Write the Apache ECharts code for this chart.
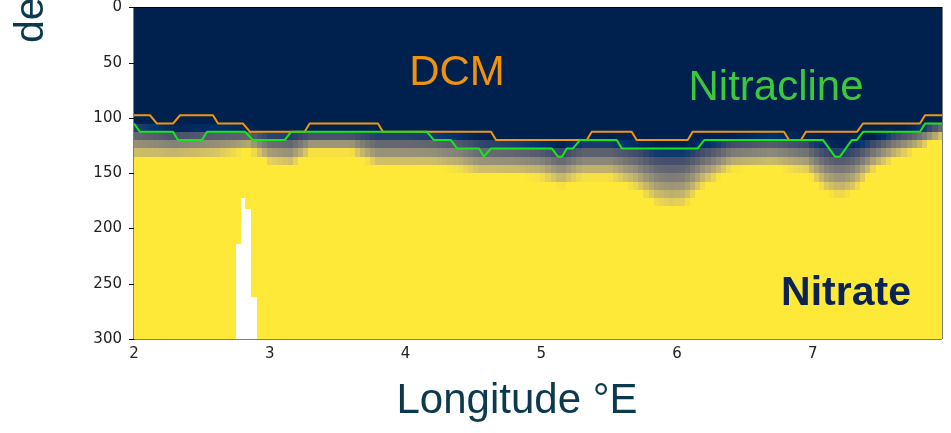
<!DOCTYPE html>
<html>
<head>
<meta charset="utf-8">
<script src="https://cdn.jsdelivr.net/npm/echarts@6/dist/echarts.min.js"></script>
<style>
html,body{margin:0;padding:0;background:#ffffff;}
#chart{width:951px;height:433px;}
</style>
</head>
<body>
<div id="chart"></div>
<script>
// ---- Data ----
const xTicks = [2, 3, 4, 5, 6, 7];
const yTicks = [0, 50, 100, 150, 200, 250, 300];
const lonMax = 7.952;

// DCM line (orange): longitude / depth breakpoints
const dcmLon   = [2.0, 2.118, 2.169, 2.287, 2.339, 2.582, 2.619, 2.803, 2.855, 3.257, 3.294, 3.797, 3.834, 4.630, 4.667, 5.335, 5.372, 5.666, 5.703, 6.079, 6.115, 6.788, 6.825, 6.913, 6.950, 7.326, 7.370, 7.790, 7.827, 7.952];
const dcmDepth = [97.5, 97.5, 105, 105, 97.5, 97.5, 105, 105, 112.5, 112.5, 105, 105, 112.5, 112.5, 120, 120, 112.5, 112.5, 120, 120, 112.5, 112.5, 120, 120, 112.5, 112.5, 105, 105, 97.5, 97.5];

// Nitracline line (green)
const nitLon   = [2.0, 2.044, 2.287, 2.324, 2.501, 2.538, 2.818, 2.877, 3.110, 3.157, 4.158, 4.210, 4.335, 4.379, 4.541, 4.578, 4.630, 5.077, 5.123, 5.153, 5.188, 5.234, 5.285, 5.556, 5.593, 6.153, 6.200, 7.076, 7.164, 7.201, 7.287, 7.324, 7.370, 7.790, 7.827, 7.952];
const nitDepth = [105, 112.5, 112.5, 120, 120, 112.5, 112.5, 120, 120, 112.5, 112.5, 120, 120, 127.5, 127.5, 135, 127.5, 127.5, 135, 135, 127.5, 127.5, 120, 120, 127.5, 127.5, 120, 120, 135, 135, 120, 120, 112.5, 112.5, 105, 105];

// Nitrate field: depth where shading starts (low) and where it reaches full (high)
const shadeLon    = [2.0, 2.3, 2.6, 2.85, 3.0, 3.15, 3.3, 3.6, 3.8, 4.0, 4.2, 4.4, 4.55, 4.8, 5.0, 5.15, 5.3, 5.5, 5.7, 5.85, 5.95, 6.05, 6.2, 6.4, 6.7, 6.95, 7.1, 7.2, 7.3, 7.45, 7.6, 7.8, 7.95];
const shadeTop    = [102, 108, 106, 108, 110, 110, 110, 110, 110, 110, 111, 113, 116, 118, 120, 123, 118, 118, 120, 123, 123, 123, 120, 116, 113, 116, 120, 123, 120, 116, 110, 106, 102];
const shadeBottom = [138, 138, 136, 130, 142, 145, 132, 132, 145, 145, 145, 148, 153, 153, 155, 163, 155, 155, 165, 180, 184, 182, 162, 147, 145, 150, 168, 173, 168, 148, 138, 128, 118];

// Missing data (white) columns: lon range and top depth
const gapLon0 = [2.751, 2.785, 2.820, 2.862];
const gapLon1 = [2.785, 2.820, 2.862, 2.903];
const gapTop  = [214, 172, 182, 262];

// grid resolution of the section
const colW = 0.038, colOrigin = 2.751, rowH = 7.5, depthMax = 300;

// ---- build cells ----
function lerpAt(xs, ys, x) {
  if (x <= xs[0]) return ys[0];
  for (let i = 1; i < xs.length; i++) {
    if (x <= xs[i]) { const t = (x - xs[i-1]) / (xs[i] - xs[i-1]); return ys[i-1] + t * (ys[i] - ys[i-1]); }
  }
  return ys[ys.length - 1];
}
const cells = [];
for (let k = -25; k < 200; k++) {
  let l0 = colOrigin + k * colW, l1 = l0 + colW;
  if (l1 <= 2 || l0 >= lonMax) continue;
  l0 = Math.max(l0, 2); l1 = Math.min(l1, lonMax);
  const c = (l0 + l1) / 2;
  const top = lerpAt(shadeLon, shadeTop, c), bot = lerpAt(shadeLon, shadeBottom, c);
  for (let r = 0; r < depthMax / rowH; r++) {
    const d0 = r * rowH, d1 = d0 + rowH, dc = (d0 + d1) / 2;
    let v = (dc - top) / (bot - top);
    v = Math.max(0, Math.min(1, v));
    cells.push([l0, l1, d0, d1, v]);
  }
}
const gaps = gapLon0.map((l, i) => [l, gapLon1[i], gapTop[i], depthMax]);
const dcmData = dcmLon.map((l, i) => [l, dcmDepth[i]]);
const nitData = nitLon.map((l, i) => [l, nitDepth[i]]);

function rectItem(fillFn) {
  return function (params, api) {
    const p0 = api.coord([api.value(0), api.value(2)]);
    const p1 = api.coord([api.value(1), api.value(3)]);
    const x0 = Math.round(Math.min(p0[0], p1[0])), x1 = Math.round(Math.max(p0[0], p1[0]));
    const y0 = Math.round(Math.min(p0[1], p1[1])), y1 = Math.round(Math.max(p0[1], p1[1]));
    const c = fillFn(api);
    return {
      type: 'rect',
      shape: { x: x0, y: y0, width: x1 - x0, height: y1 - y0 },
      style: { fill: c, stroke: null }
    };
  };
}

const chart = echarts.init(document.getElementById('chart'), null, { renderer: 'canvas' });
const textCol = '#0b3a4f';
chart.setOption({
  animation: false,
  backgroundColor: '#ffffff',
  grid: { left: 134, right: 9, top: 6, bottom: 94, show: true, borderColor: '#000', borderWidth: 1, backgroundColor: '#00204d' },
  xAxis: {
    type: 'value', min: 2, max: lonMax, interval: 1,
    axisLine: { show: true, lineStyle: { color: '#000', width: 1 } },
    axisTick: { show: true, length: 5, lineStyle: { color: '#000' } },
    axisLabel: { color: '#222', fontFamily: 'DejaVu Sans', fontSize: 15, margin: 8, showMaxLabel: false,
      formatter: v => (xTicks.indexOf(v) >= 0 ? String(v) : '') },
    splitLine: { show: false }
  },
  yAxis: {
    type: 'value', min: 0, max: 300, interval: 50, inverse: true,
    axisLine: { show: true, lineStyle: { color: '#000', width: 1 } },
    axisTick: { show: true, length: 5, lineStyle: { color: '#000' } },
    axisLabel: { color: '#222', fontFamily: 'DejaVu Sans', fontSize: 15, margin: 12,
      formatter: v => (yTicks.indexOf(v) >= 0 ? String(v) : '') },
    splitLine: { show: false }
  },
  visualMap: {
    show: false, seriesIndex: 0, dimension: 4, min: 0, max: 1,
    inRange: { color: ['#00204d', '#00336f', '#39486b', '#575c6d', '#707173', '#8a8779', '#a69d75', '#c4b56c', '#e4cf5b', '#fee838'] }
  },
  series: [
    { type: 'custom', data: cells, renderItem: rectItem(api => api.visual('color')),
      encode: { x: [0, 1], y: [2, 3] }, clip: true, silent: true, z: 1 },
    { type: 'custom', data: gaps, renderItem: rectItem(() => '#ffffff'),
      encode: { x: [0, 1], y: [2, 3] }, clip: true, silent: true, z: 2 },
    { type: 'line', data: dcmData, showSymbol: false, symbol: 'none', z: 3,
      lineStyle: { color: '#f09612', width: 2 } },
    { type: 'line', data: nitData, showSymbol: false, symbol: 'none', z: 4,
      lineStyle: { color: '#1ee21e', width: 2 } }
  ],
  graphic: [
    { type: 'text', x: 457, y: 73, z: 10, style: { text: 'DCM', fill: '#f0920c', font: '42px "Liberation Sans"', textAlign: 'center', textVerticalAlign: 'middle', align: 'center', verticalAlign: 'middle' } },
    { type: 'text', x: 776, y: 88, z: 10, style: { text: 'Nitracline', fill: '#3cc83c', font: '42px "Liberation Sans"', textAlign: 'center', textVerticalAlign: 'middle', align: 'center', verticalAlign: 'middle' } },
    { type: 'text', x: 846, y: 294, z: 10, style: { text: 'Nitrate', fill: '#0a2350', font: 'bold 41px "Liberation Sans"', textAlign: 'center', textVerticalAlign: 'middle', align: 'center', verticalAlign: 'middle' } },
    { type: 'text', x: 517, y: 401, z: 10, style: { text: 'Longitude °E', fill: textCol, font: '42px "Liberation Sans"', textAlign: 'center', textVerticalAlign: 'middle', align: 'center', verticalAlign: 'middle' } },
    { type: 'text', x: 32, y: 43, rotation: Math.PI / 2, z: 10, style: { text: 'depth (m)', fill: textCol, font: '41px "Liberation Sans"', textAlign: 'left', textVerticalAlign: 'middle', align: 'left', verticalAlign: 'middle' } }
  ]
});
</script>
</body>
</html>
